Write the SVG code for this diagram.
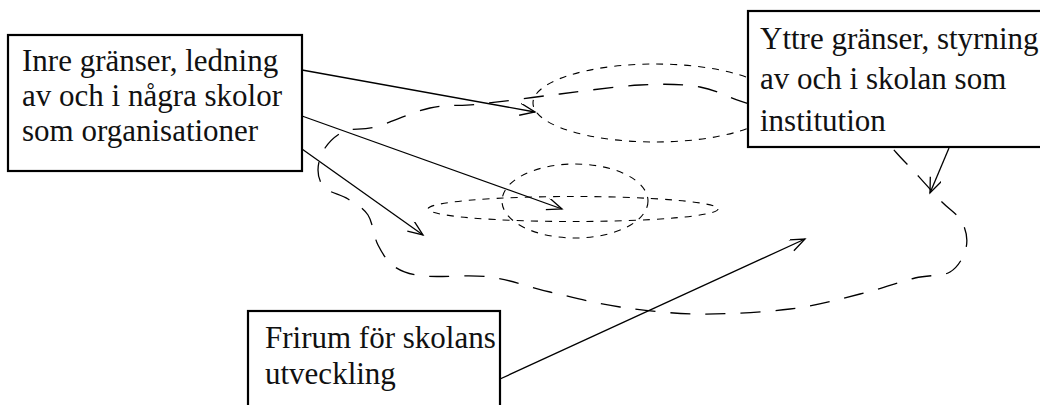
<svg xmlns="http://www.w3.org/2000/svg" width="1040" height="405" viewBox="0 0 1040 405">
<style>
.box{fill:#fff;stroke:#000;stroke-width:2.2}
.lbl{font-family:"Liberation Serif","Times New Roman",serif;font-size:31px;fill:#111}
.dot{fill:none;stroke:#000;stroke-width:1.1;stroke-dasharray:7 7}
.blob{fill:none;stroke:#000;stroke-width:1.3;stroke-dasharray:20 15}
.arr{fill:none;stroke:#000;stroke-width:1.3;marker-end:url(#ah)}
</style>
<defs>
<marker id="ah" markerUnits="userSpaceOnUse" markerWidth="18" markerHeight="14" refX="16" refY="6" orient="auto">
<path d="M1,0 L16,6 L1,12" fill="none" stroke="#000" stroke-width="1.3"/>
</marker>
</defs>
<g id="regions">
<path class="blob" d="M750,104 C731.7,99.8 718.3,90.2 700,87 C681.7,83.8 663.3,83.8 640,85 C616.7,86.2 586.7,90.8 560,94 C533.3,97.2 501.7,101.7 480,104 C458.3,106.3 447.5,104.2 430,108 C412.5,111.8 389.2,123.2 375,127 C360.8,130.8 353.3,127.5 345,131 C336.7,134.5 329.5,141.5 325,148 C320.5,154.5 318,163.3 318,170 C318,176.7 320,183.2 325,188 C330,192.8 340.8,194.5 348,199 C355.2,203.5 363,207.3 368,215 C373,222.7 373.5,236.3 378,245 C382.5,253.7 387.2,261.8 395,267 C402.8,272.2 409.2,274.3 425,276 C440.8,277.7 469.2,274.3 490,277 C510.8,279.7 528.3,287 550,292 C571.7,297 595,303.3 620,307 C645,310.7 671.7,313.7 700,314 C728.3,314.3 763.3,312.3 790,309 C816.7,305.7 839.2,299.2 860,294 C880.8,288.8 900,281.7 915,278 C930,274.3 941.5,277 950,272 C958.5,267 964,256.3 966,248 C968,239.7 966.3,230 962,222 C957.7,214 949.5,210 940,200 C930.5,190 916.7,173.7 905,162 C893.3,150.3 885.8,138.3 870,130 C854.2,121.7 830,116.3 810,112 C790,107.7 768.3,108.2 750,104 Z"/>
<ellipse class="dot" cx="655" cy="103" rx="122" ry="39"/>
<ellipse class="dot" cx="573" cy="209" rx="145" ry="12.5"/>
<ellipse class="dot" cx="575" cy="201" rx="73" ry="37"/>
</g>
<g id="inre">
<rect class="box" x="8" y="35" width="294" height="136"/>
<text class="lbl" x="22" y="71">Inre gränser, ledning</text>
<text class="lbl" x="22" y="106">av och i några skolor</text>
<text class="lbl" x="22" y="141">som organisationer</text>
</g>
<g id="yttre">
<rect class="box" x="748" y="11" width="300" height="136"/>
<text class="lbl" x="760" y="49">Yttre gränser, styrning</text>
<text class="lbl" x="760" y="89">av och i skolan som</text>
<text class="lbl" x="760" y="131">institution</text>
</g>
<g id="frirum">
<rect class="box" x="248" y="311" width="252" height="120"/>
<text class="lbl" x="265" y="348">Frirum för skolans</text>
<text class="lbl" x="265" y="384">utveckling</text>
</g>
<g id="connectors">
<line class="arr" x1="302" y1="70" x2="535" y2="112"/>
<line class="arr" x1="302" y1="116" x2="562" y2="209"/>
<line class="arr" x1="302" y1="149" x2="423" y2="235"/>
<line class="arr" x1="500" y1="379" x2="805" y2="239"/>
<line class="arr" x1="949" y1="148" x2="930" y2="193"/>
</g>
</svg>
